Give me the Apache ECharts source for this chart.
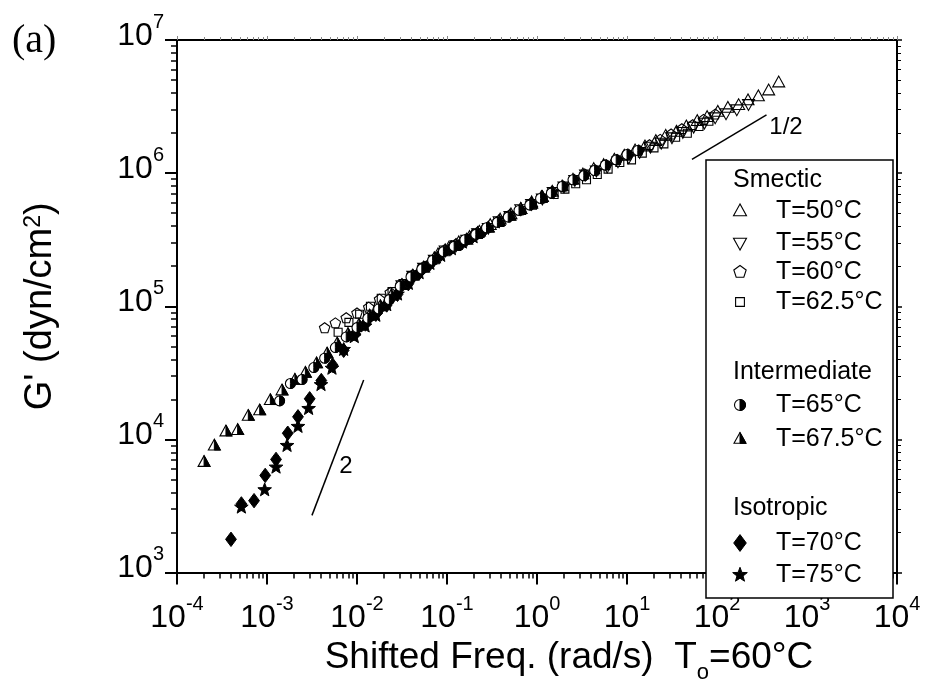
<!DOCTYPE html>
<html><head><meta charset="utf-8">
<script src="https://cdn.jsdelivr.net/npm/echarts@6/dist/echarts.min.js"></script>
<style>html,body{margin:0;padding:0;background:#fff}#chart{width:926px;height:689px}</style>
</head><body><div id="chart"></div>
<script>
// ---- tick values ----
const xTicks = [1e-4, 1e-3, 1e-2, 1e-1, 1, 1e1, 1e2, 1e3, 1e4];
const yTicks = [1e3, 1e4, 1e5, 1e6, 1e7];

// ---- legend text ----
const groupTitles = ['Smectic', 'Intermediate', 'Isotropic'];
const seriesNames = ['T=50°C', 'T=55°C', 'T=60°C', 'T=62.5°C', 'T=65°C', 'T=67.5°C', 'T=70°C', 'T=75°C'];

// ---- data: [shifted frequency (rad/s), G' (dyn/cm2)] ----
const g50 = [[0.0794,2.45e5],[0.105,2.75e5],[0.135,3.02e5],[0.178,3.31e5],[0.229,3.63e5],[0.302,4.07e5],[0.389,4.47e5],[0.513,4.90e5],[0.661,5.37e5],[0.871,6.03e5],[1.122,6.61e5],[1.479,7.24e5],[1.905,7.94e5],[2.512,8.91e5],[3.236,9.77e5],[4.266,1.072e6],[5.495,1.148e6],[7.244,1.259e6],[9.333,1.349e6],[12.3,1.479e6],[15.85,1.585e6],[20.9,1.738e6],[26.9,1.905e6],[35.5,2.042e6],[45.7,2.239e6],[60.3,2.455e6],[77.6,2.63e6],[102,2.884e6],[132,3.09e6],[174,3.236e6],[221,3.52e6],[288,3.77e6],[375,4.17e6],[485,4.79e6]];
const g55 = [[0.0316,1.445e5],[0.0417,1.698e5],[0.055,1.95e5],[0.0724,2.239e5],[0.0955,2.63e5],[0.126,2.884e5],[0.166,3.162e5],[0.219,3.548e5],[0.288,3.89e5],[0.380,4.365e5],[0.501,4.786e5],[0.661,5.37e5],[0.871,5.888e5],[1.148,6.457e5],[1.514,7.244e5],[1.995,7.943e5],[2.63,8.913e5],[3.467,9.772e5],[4.571,1.047e6],[6.026,1.122e6],[7.943,1.23e6],[10.47,1.318e6],[13.8,1.445e6],[18.2,1.585e6],[24.0,1.698e6],[31.6,1.862e6],[41.7,2.042e6],[55.0,2.239e6],[72.4,2.399e6],[95.5,2.63e6],[126,2.818e6],[166,3.02e6],[224,3.311e6]];
const g60 = [[0.00437,6.84e4],[0.00575,7.45e4],[0.00759,8.13e4],[0.0100,8.83e4],[0.0135,9.77e4],[0.0178,1.122e5],[0.0234,1.259e5],[0.0309,1.445e5],[0.0407,1.698e5],[0.0537,1.95e5],[0.0708,2.239e5],[0.0933,2.63e5],[0.123,2.884e5],[0.162,3.162e5],[0.214,3.548e5],[0.282,3.89e5],[0.372,4.365e5],[0.490,4.786e5],[0.646,5.248e5],[0.851,5.888e5],[1.122,6.457e5],[1.479,7.244e5],[1.95,7.943e5],[2.57,8.913e5],[3.388,9.772e5],[4.467,1.047e6],[5.888,1.148e6],[7.762,1.259e6],[10.23,1.38e6],[13.49,1.479e6],[17.78,1.622e6],[23.4,1.778e6],[30.9,1.95e6],[40.7,2.138e6],[53.7,2.291e6],[70.8,2.512e6],[95.5,2.754e6]];
const g625 = [[0.00617,6.38e4],[0.00813,7.57e4],[0.0107,8.71e4],[0.0141,1.0e5],[0.0186,1.148e5],[0.0245,1.288e5],[0.0324,1.479e5],[0.0427,1.698e5],[0.0562,1.95e5],[0.0741,2.239e5],[0.0977,2.57e5],[0.129,2.818e5],[0.170,3.162e5],[0.224,3.467e5],[0.295,3.89e5],[0.389,4.266e5],[0.513,4.786e5],[0.676,5.248e5],[0.891,5.754e5],[1.175,6.457e5],[1.549,6.918e5],[2.042,7.586e5],[2.692,8.318e5],[3.548,8.913e5],[4.677,9.772e5],[6.166,1.072e6],[8.318,1.202e6],[11.22,1.259e6],[14.79,1.413e6],[19.95,1.549e6],[25.7,1.66e6],[34.7,1.862e6],[46.8,1.995e6],[63.1,2.239e6],[81.3,2.455e6]];
const g65 = [[0.00138,1.95e4],[0.00182,2.63e4],[0.00245,2.818e4],[0.00331,3.467e4],[0.00437,4.074e4],[0.00575,4.898e4],[0.00759,5.888e4],[0.0100,6.918e4],[0.0132,8.128e4],[0.0174,9.55e4],[0.0229,1.122e5],[0.0302,1.413e5],[0.0398,1.66e5],[0.0525,1.905e5],[0.0692,2.213e5],[0.0912,2.57e5],[0.120,2.818e5],[0.158,3.162e5],[0.209,3.467e5],[0.275,3.89e5],[0.363,4.266e5],[0.479,4.677e5],[0.631,5.248e5],[0.832,5.754e5],[1.096,6.457e5],[1.445,7.079e5],[1.905,7.943e5],[2.512,8.913e5],[3.311,9.55e5],[4.365,1.047e6],[5.754,1.148e6],[7.586,1.259e6],[10.0,1.38e6],[13.18,1.479e6]];
const g675 = [[0.000200,6.76e3],[0.00026,8.97e3],[0.00035,1.146e4],[0.000472,1.175e4],[0.00062,1.50e4],[0.00083,1.65e4],[0.00109,1.97e4],[0.00147,2.33e4],[0.00204,2.80e4],[0.00267,3.16e4],[0.00355,3.72e4],[0.00465,4.41e4],[0.00603,5.25e4],[0.00794,6.17e4],[0.0105,7.24e4],[0.0138,8.51e4],[0.0182,1.0e5],[0.024,1.202e5],[0.0316,1.445e5],[0.0417,1.698e5],[0.055,1.95e5],[0.0724,2.291e5],[0.0955,2.63e5],[0.126,2.884e5],[0.166,3.162e5],[0.219,3.548e5],[0.288,3.89e5],[0.380,4.365e5],[0.501,4.786e5],[0.661,5.37e5],[0.871,5.888e5],[1.148,6.607e5]];
const g70 = [[0.000398,1.778e3],[0.000519,3.28e3],[0.000718,3.47e3],[0.000955,5.37e3],[0.00126,7.08e3],[0.0017,1.114e4],[0.00221,1.479e4],[0.00298,2.02e4],[0.00401,2.77e4],[0.00537,3.61e4],[0.00711,4.67e4],[0.00955,6.21e4],[0.01236,7.36e4],[0.0162,8.71e4],[0.0214,1.023e5],[0.0282,1.23e5],[0.0372,1.479e5],[0.049,1.778e5],[0.0646,2.089e5],[0.0851,2.455e5],[0.112,2.754e5],[0.148,3.02e5],[0.195,3.388e5],[0.257,3.715e5]];
const g75 = [[0.000519,3.09e3],[0.000942,4.17e3],[0.00126,6.17e3],[0.00167,8.97e3],[0.00221,1.247e4],[0.0029,1.70e4],[0.00398,2.57e4],[0.00527,3.41e4],[0.00711,4.72e4],[0.00933,5.89e4],[0.0123,7.08e4],[0.0162,8.51e4],[0.0214,1.023e5],[0.0282,1.23e5],[0.0372,1.479e5],[0.049,1.778e5],[0.0646,2.089e5],[0.0851,2.399e5],[0.112,2.692e5],[0.148,3.02e5],[0.195,3.311e5]];

// slope guide lines (data coordinates)
const slopeHalfLine = [[52.7, 1.27e6], [355, 2.74e6]];
const slopeTwoLine = [[0.00316, 2.69e3], [0.01186, 2.8e4]];

// ---------------------------------------------------------------
const FONT = "'Liberation Sans', Arial, sans-serif";
const minorOf = ticks => { const out = []; for (let i = 0; i < ticks.length - 1; i++) for (let m = 2; m <= 9; m++) out.push(ticks[i] * m); return out; };
const xMinor = minorOf(xTicks), yMinor = minorOf(yTicks);

function triPts(cx, cy, s, up) {
  const h = s * 0.9, w = s / 2;
  return up ? [[cx, cy - h * 0.6], [cx - w, cy + h * 0.4], [cx + w, cy + h * 0.4]]
            : [[cx, cy + h * 0.6], [cx - w, cy - h * 0.4], [cx + w, cy - h * 0.4]];
}
function makeShape(kind, cx, cy, s, z) {
  const open = { stroke: '#000', lineWidth: 1.1, fill: 'none' };
  const white = { stroke: '#000', lineWidth: 1.1, fill: '#fff' };
  const blk = { stroke: '#000', lineWidth: 1, fill: '#000' };
  let els = [];
  switch (kind) {
    case 'up': els = [{ type: 'polygon', shape: { points: triPts(cx, cy, s, true) }, style: open }]; break;
    case 'down': els = [{ type: 'polygon', shape: { points: triPts(cx, cy, s, false) }, style: open }]; break;
    case 'pent': {
      const pts = []; const r = s / 2;
      for (let i = 0; i < 5; i++) { const a = (-90 + 72 * i) * Math.PI / 180; pts.push([cx + r * Math.cos(a), cy + r * Math.sin(a)]); }
      els = [{ type: 'polygon', shape: { points: pts }, style: open }]; break;
    }
    case 'square': els = [{ type: 'rect', shape: { x: cx - s * 0.4, y: cy - s * 0.4, width: s * 0.8, height: s * 0.8 }, style: open }]; break;
    case 'halfcirc': els = [
      { type: 'circle', shape: { cx: cx, cy: cy, r: s / 2 }, style: white },
      { type: 'sector', shape: { cx: cx, cy: cy, r0: 0, r: s / 2, startAngle: -Math.PI / 2, endAngle: Math.PI / 2, clockwise: true }, style: blk }
    ]; break;
    case 'halftri': {
      const p = triPts(cx, cy, s, true);
      els = [
        { type: 'polygon', shape: { points: p }, style: white },
        { type: 'polygon', shape: { points: [p[0], [cx, p[2][1]], p[2]] }, style: blk }
      ]; break;
    }
    case 'diamond': els = [{ type: 'polygon', shape: { points: [[cx, cy - s * 0.6], [cx + s * 0.45, cy], [cx, cy + s * 0.6], [cx - s * 0.45, cy]] }, style: blk }]; break;
    case 'star': {
      const pts = []; const R = s * 0.55, r = R * 0.42;
      for (let i = 0; i < 10; i++) { const a = (-90 + 36 * i) * Math.PI / 180; const rr = i % 2 ? r : R; pts.push([cx + rr * Math.cos(a), cy + rr * Math.sin(a)]); }
      els = [{ type: 'polygon', shape: { points: pts }, style: blk }]; break;
    }
  }
  if (z != null) els.forEach((e, i) => { e.z = z; e.z2 = i; });
  return els;
}

const seriesDefs = [
  { data: g50, kind: 'up', size: 12, lsize: 13 },
  { data: g55, kind: 'down', size: 12, lsize: 13 },
  { data: g60, kind: 'pent', size: 11, lsize: 13 },
  { data: g625, kind: 'square', size: 10, lsize: 11 },
  { data: g65, kind: 'halfcirc', size: 10, lsize: 11 },
  { data: g675, kind: 'halftri', size: 12, lsize: 12 },
  { data: g70, kind: 'diamond', size: 12, lsize: 14 },
  { data: g75, kind: 'star', size: 13, lsize: 14 }
];
const drawOrder = [0, 1, 2, 3, 7, 6, 5, 4];

const series = drawOrder.map((idx, k) => {
  const d = seriesDefs[idx];
  return {
    type: 'custom', name: seriesNames[idx], xAxisIndex: 0, yAxisIndex: 0,
    data: d.data, encode: { x: 0, y: 1 }, z: 3 + k, silent: true,
    renderItem: function (params, api) {
      const p = api.coord([api.value(0), api.value(1)]);
      return { type: 'group', children: makeShape(d.kind, p[0], p[1], d.size) };
    }
  };
});
[slopeHalfLine, slopeTwoLine].forEach(l => series.push({
  type: 'line', data: l, xAxisIndex: 0, yAxisIndex: 0, symbol: 'none', silent: true,
  lineStyle: { color: '#000', width: 1.5 }, z: 2
}));

const powLabel = v => '{b|10}{s|' + Math.round(Math.log10(v)) + '}';
const tickRich = {
  b: { fontSize: 32, fontFamily: FONT, color: '#000', verticalAlign: 'bottom', padding: [8, 0, 0, 0] },
  s: { fontSize: 20, fontFamily: FONT, color: '#000', verticalAlign: 'top' }
};
const axisLine = { show: true, lineStyle: { color: '#000', width: 2 } };
function mkAxis(pos, major, ticks, minor, opts) {
  const a = {
    type: 'log', logBase: 10, gridIndex: 0, position: pos,
    min: ticks[0], max: ticks[ticks.length - 1],
    splitLine: { show: false }, minorTick: { show: false }, minorSplitLine: { show: false },
    axisLine: major ? axisLine : { show: false },
    axisTick: { show: true, inside: false, customValues: major ? ticks : minor, length: opts.len, lineStyle: { color: opts.color || '#000', width: opts.w } },
    axisLabel: { show: false }
  };
  return Object.assign(a, opts.extra || {});
}

const option = {
  animation: false,
  backgroundColor: '#fff',
  grid: { left: 177, right: 29, top: 40, bottom: 87, containLabel: false },
  xAxis: [
    mkAxis('bottom', true, xTicks, xMinor, { len: 12, w: 2, extra: {
      axisLabel: { show: true, customValues: xTicks, margin: 22, formatter: powLabel, rich: tickRich },
      name: 'Shifted Freq. (rad/s)  T{sub|o}=60°C', nameLocation: 'middle', nameGap: 42,
      nameTextStyle: { fontSize: 37, fontFamily: FONT, color: '#000', padding: [0, 0, 0, 64], rich: {
        sub: { fontSize: 22, fontFamily: FONT, color: '#000', verticalAlign: 'bottom', padding: [30, 0, 0, 0] } } }
    } }),
    mkAxis('bottom', false, xTicks, xMinor, { len: 6, w: 1.5 }),
    mkAxis('top', true, xTicks, xMinor, { len: 4, w: 1, color: '#888' }),
    mkAxis('top', false, xTicks, xMinor, { len: 3, w: 1, color: '#888' })
  ],
  yAxis: [
    mkAxis('left', true, yTicks, yMinor, { len: 12, w: 2, extra: {
      axisLabel: { show: true, customValues: yTicks, margin: 13, padding: [0, 0, 16, 0], formatter: powLabel, rich: tickRich },
      name: "G' (dyn/cm{sup|2})", nameLocation: 'middle', nameGap: 117,
      nameTextStyle: { fontSize: 38, fontFamily: FONT, color: '#000', rich: {
        sup: { fontSize: 23, fontFamily: FONT, color: '#000', verticalAlign: 'top' } } }
    } }),
    mkAxis('left', false, yTicks, yMinor, { len: 6, w: 1.5 }),
    mkAxis('right', true, yTicks, yMinor, { len: 5, w: 1.5 }),
    mkAxis('right', false, yTicks, yMinor, { len: 4, w: 1 })
  ],
  series: series,
  graphic: []
};

// ---- legend (drawn as graphics) ----
const legendFont = '25px ' + FONT;
const g = option.graphic;
g.push({ type: 'rect', shape: { x: 706, y: 160, width: 187, height: 438 }, style: { fill: '#fff', stroke: '#000', lineWidth: 1.5 }, z: 50 });
const headerRows = [180, 372, 508];
groupTitles.forEach((t, i) => g.push({ type: 'text', x: 733, y: headerRows[i], z: 52, style: { text: t, font: legendFont, fill: '#000', align: 'left', verticalAlign: 'middle' } }));
const itemRows = [211, 243, 272, 302, 405, 439, 543, 575];
seriesNames.forEach((n, i) => {
  const d = seriesDefs[i];
  makeShape(d.kind, 740, itemRows[i], d.lsize, 52).forEach(e => g.push(e));
  g.push({ type: 'text', x: 776, y: itemRows[i], z: 52, style: { text: n, font: legendFont, fill: '#000', align: 'left', verticalAlign: 'middle' } });
});
// annotations
g.push({ type: 'text', x: 12, y: 41, style: { text: '(a)', font: "40px 'Liberation Serif', 'Times New Roman', serif", fill: '#000', align: 'left', verticalAlign: 'middle' } });
g.push({ type: 'text', x: 346, y: 466, style: { text: '2', font: '24px ' + FONT, fill: '#000', align: 'center', verticalAlign: 'middle' } });
g.push({ type: 'text', x: 786, y: 127, style: { text: '1/2', font: '24px ' + FONT, fill: '#000', align: 'center', verticalAlign: 'middle' } });

const chart = echarts.init(document.getElementById('chart'), null, { renderer: 'canvas' });
chart.setOption(option);
</script></body></html>
